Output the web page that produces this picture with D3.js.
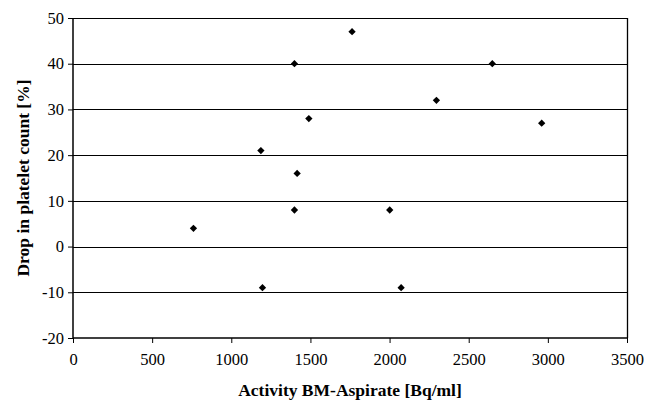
<!DOCTYPE html>
<html>
<head>
<meta charset="utf-8">
<script src="https://cdn.jsdelivr.net/npm/d3@7/dist/d3.min.js"></script>
<style>
  body { margin: 0; background: #fff; }
</style>
</head>
<body>
<div id="chart"></div>
<script>
// Activity in BM aspirate [Bq/ml] vs drop in platelet count [%]
const activity = [761, 1187, 1197, 1399, 1399, 1416, 1490, 1763, 2001, 2073, 2296, 2649, 2961];
const plateletDrop = [4, 21, -9, 40, 8, 16, 28, 47, 8, -9, 32, 40, 27];
const xTicks = [0, 500, 1000, 1500, 2000, 2500, 3000, 3500];
const yTicks = [-20, -10, 0, 10, 20, 30, 40, 50];

const FONT = "'Liberation Serif', 'Times New Roman', serif";
const W = 646, H = 402;
const margin = { top: 18, right: 19, bottom: 64, left: 73 };
const iw = W - margin.left - margin.right;
const ih = H - margin.top - margin.bottom;

const svg = d3.select("#chart").append("svg")
  .attr("width", W).attr("height", H);

const g = svg.append("g")
  .attr("transform", `translate(${margin.left},${margin.top})`);

const x = d3.scaleLinear().domain([0, 3500]).range([0, iw]);
const y = d3.scaleLinear().domain([-20, 50]).range([ih, 0]);

// gridlines
g.append("g")
  .selectAll("line")
  .data(yTicks.filter(d => d > -20))
  .join("line")
  .attr("x1", 0).attr("x2", iw)
  .attr("y1", d => Math.round(y(d)) + 0.5).attr("y2", d => Math.round(y(d)) + 0.5)
  .attr("stroke", "#000").attr("stroke-width", 1);

// right border
g.append("line")
  .attr("x1", iw + 0.5).attr("x2", iw + 0.5)
  .attr("y1", 0).attr("y2", ih)
  .attr("stroke", "#000").attr("stroke-width", 1.3);

// axes
const fmt = d => String(d); // plain hyphen minus, no thousands separator
const yAxis = g.append("g")
  .call(d3.axisLeft(y).tickValues(yTicks).tickFormat(fmt).tickSize(5).tickPadding(4));
const xAxis = g.append("g")
  .attr("transform", `translate(0,${ih})`)
  .call(d3.axisBottom(x).tickValues(xTicks).tickFormat(fmt).tickSize(5).tickPadding(10.5));

[yAxis, xAxis].forEach(a => {
  a.attr("font-family", FONT).attr("font-size", 16.5);
  a.select(".domain").attr("stroke", "#000").attr("stroke-width", 1.5);
  a.selectAll(".tick line").attr("stroke", "#000");
  a.selectAll(".tick text").attr("fill", "#000");
});
// remove outer tick stubs on domain path
yAxis.select(".domain").attr("d", `M0,0V${ih}`);
xAxis.select(".domain").attr("d", `M0,0H${iw}`);

// points (diamonds)
const diamond = d3.symbol().type(d3.symbolDiamond2).size(34);
g.append("g")
  .selectAll("path")
  .data(activity.map((a, i) => [a, plateletDrop[i]]))
  .join("path")
  .attr("d", diamond)
  .attr("transform", d => `translate(${x(d[0])},${y(d[1])})`)
  .attr("fill", "#000");

// axis titles
svg.append("text")
  .attr("font-family", FONT).attr("font-size", 17.5).attr("font-weight", "bold")
  .attr("text-anchor", "middle")
  .attr("x", margin.left + iw / 2)
  .attr("y", 396)
  .text("Activity BM-Aspirate [Bq/ml]");

svg.append("text")
  .attr("font-family", FONT).attr("font-size", 17.5).attr("font-weight", "bold")
  .attr("text-anchor", "middle")
  .attr("transform", `translate(29,${margin.top + ih / 2}) rotate(-90)`)
  .text("Drop in platelet count [%]");
</script>
</body>
</html>
